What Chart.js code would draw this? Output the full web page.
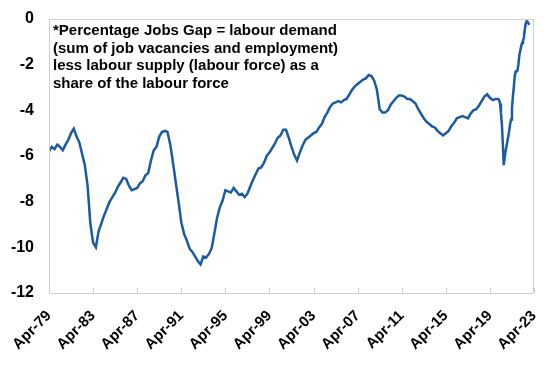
<!DOCTYPE html>
<html>
<head>
<meta charset="utf-8">
<script src="https://cdn.jsdelivr.net/npm/chart.js@4/dist/chart.umd.min.js"></script>
<style>
  html, body { margin: 0; padding: 0; background: #fff; }
  #wrap { width: 548px; height: 366px; }
</style>
</head>
<body>
<div id="wrap"><canvas id="chart"></canvas></div>
<script>
// Percentage jobs gap
// Quarterly readings from Apr-79 to Oct-19, then monthly from Jan-20
const quarterlyStart = '1979-04';
const quarterlyGap = [
  -5.8, -5.6, -5.7, -5.5, -5.6, -5.75, -5.5, -5.3, -5.0, -4.8,
  -5.15, -5.4, -5.9, -6.4, -7.3, -8.95, -9.8, -10.0, -9.3, -8.95,
  -8.6, -8.3, -8.0, -7.8, -7.6, -7.35, -7.15, -6.95, -7.0, -7.3,
  -7.5, -7.45, -7.4, -7.2, -7.1, -6.85, -6.75, -6.2, -5.75, -5.6,
  -5.15, -4.95, -4.9, -4.95, -5.5, -6.3, -7.15, -8.0, -8.9, -9.4,
  -9.7, -10.05, -10.2, -10.4, -10.6, -10.75, -10.4, -10.45, -10.3, -10.05,
  -9.4, -8.7, -8.25, -7.95, -7.5, -7.55, -7.6, -7.4, -7.55, -7.7,
  -7.65, -7.8, -7.65, -7.35, -7.05, -6.8, -6.55, -6.5, -6.3, -6.0,
  -5.85, -5.65, -5.45, -5.2, -5.1, -4.85, -4.85, -5.2, -5.6, -5.95,
  -6.2, -5.85, -5.55, -5.3, -5.2, -5.1, -5.0, -4.95, -4.75, -4.6,
  -4.3, -4.1, -3.85, -3.7, -3.65, -3.6, -3.65, -3.55, -3.5, -3.3,
  -3.1, -2.95, -2.85, -2.75, -2.65, -2.6, -2.45, -2.5, -2.7, -3.1,
  -3.95, -4.1, -4.1, -4.0, -3.75, -3.6, -3.45, -3.35, -3.35, -3.4,
  -3.5, -3.5, -3.6, -3.7, -3.95, -4.15, -4.35, -4.5, -4.6, -4.7,
  -4.75, -4.9, -5.0, -5.1, -5.0, -4.9, -4.7, -4.55, -4.35, -4.3,
  -4.25, -4.3, -4.35, -4.15, -4.0, -3.95, -3.8, -3.6, -3.4, -3.3,
  -3.45, -3.55, -3.5
];
const monthlyStart = '2020-01';
const monthlyGap = [
  -3.5, -3.55, -3.7, -4.1, -4.6, -5.4, -6.4, -6.1, -5.8, -5.6, -5.35, -5.15,
  -4.9, -4.6, -4.4, -3.9, -3.4, -3.0, -2.5, -2.3, -2.3, -2.25, -2.0, -1.6,
  -1.4, -1.2, -1.05, -0.95, -0.8, -0.45, -0.2, -0.1, -0.12, -0.2, -0.25
];

const yTicks = [0, -2, -4, -6, -8, -10, -12];
const xTickLabels = ['Apr-79', 'Apr-83', 'Apr-87', 'Apr-91', 'Apr-95', 'Apr-99',
  'Apr-03', 'Apr-07', 'Apr-11', 'Apr-15', 'Apr-19', 'Apr-23'];
const noteLines = [
  '*Percentage Jobs Gap = labour demand',
  '(sum of job vacancies and employment)',
  'less labour supply (labour force) as a',
  'share of the labour force'
];

// months counted from Apr-79
const monthsFrom = (ym) => {
  const [y, m] = ym.split('-').map(Number);
  return (y - 1979) * 12 + (m - 4);
};

const puntos = [];
const q0 = monthsFrom(quarterlyStart);
quarterlyGap.forEach((v, i) => puntos.push({ x: q0 + i * 3, y: v }));
const m0 = monthsFrom(monthlyStart);
monthlyGap.forEach((v, i) => puntos.push({ x: m0 + i, y: v }));

const AZUL = '#1b5aa4';
const FUENTE = '"Liberation Sans", Arial, sans-serif';

// caja gris, marcas del eje x hacia dentro y la nota de texto
const extras = {
  id: 'extras',
  afterDraw(chart) {
    const { ctx, chartArea: a } = chart;
    const sx = chart.scales.x;
    ctx.save();
    ctx.strokeStyle = '#cfcfcf';
    ctx.lineWidth = 1;
    ctx.strokeRect(a.left + 0.5, a.top + 0.5, a.right - a.left - 1, a.bottom - a.top);
    ctx.beginPath();
    sx.ticks.forEach((t) => {
      const px = Math.round(sx.getPixelForValue(t.value)) + 0.5;
      ctx.moveTo(px, a.bottom);
      ctx.lineTo(px, a.bottom - 5);
    });
    ctx.stroke();

    ctx.fillStyle = '#000';
    ctx.font = 'bold 15px ' + FUENTE;
    ctx.textBaseline = 'middle';
    noteLines.forEach((l, i) => ctx.fillText(l, a.left + 4, 31 + i * 17.5));
    ctx.restore();
  },
};

new Chart(document.getElementById('chart'), {
  type: 'line',
  data: {
    datasets: [{
      data: puntos,
      borderColor: AZUL,
      borderWidth: 2.5,
      pointRadius: 0,
      tension: 0,
    }],
  },
  options: {
    responsive: true,
    maintainAspectRatio: false,
    animation: false,
    events: [],
    layout: { padding: { top: 19, right: 14, left: 0, bottom: 0 } },
    plugins: { legend: { display: false }, tooltip: { enabled: false } },
    scales: {
      x: {
        type: 'linear',
        min: 0,
        max: 528,
        afterFit: (s) => { s.height = 73; s.paddingLeft = 0; s.paddingRight = 0; },
        grid: { display: false, drawTicks: false },
        border: { display: false },
        ticks: {
          stepSize: 48,
          autoSkip: false,
          maxRotation: 45,
          minRotation: 45,
          padding: 14,
          color: '#000',
          font: { family: FUENTE, size: 15, weight: 'bold' },
          callback: (v) => xTickLabels[v / 48],
        },
      },
      y: {
        min: -12,
        max: 0,
        afterFit: (s) => { s.width = 49; s.paddingTop = 0; s.paddingBottom = 0; },
        grid: { display: false, drawTicks: false },
        border: { display: false },
        ticks: {
          stepSize: 2,
          padding: 15,
          color: '#000',
          font: { family: FUENTE, size: 16, weight: 'bold' },
          callback: (v) => (yTicks.includes(v) ? String(v) : ''),
        },
      },
    },
  },
  plugins: [extras],
});
</script>
</body>
</html>
